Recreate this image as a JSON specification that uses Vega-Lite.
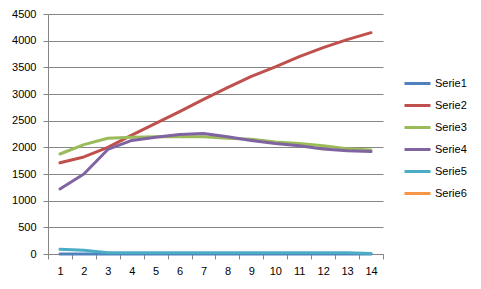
{
  "$schema": "https://vega.github.io/schema/vega-lite/v6.json",
  "width": 335,
  "height": 240,
  "autosize": {"type": "none"},
  "padding": {"left": 48, "top": 14, "right": 98, "bottom": 35},
  "background": "white",
  "config": {
    "view": {"stroke": null},
    "font": "Liberation Sans"
  },
  "datasets": {
    "d": [
      {"x": 1, "s": "Serie1", "v": 0}, {"x": 2, "s": "Serie1", "v": 0}, {"x": 3, "s": "Serie1", "v": 0}, {"x": 4, "s": "Serie1", "v": 0}, {"x": 5, "s": "Serie1", "v": 0}, {"x": 6, "s": "Serie1", "v": 0}, {"x": 7, "s": "Serie1", "v": 0}, {"x": 8, "s": "Serie1", "v": 0}, {"x": 9, "s": "Serie1", "v": 0}, {"x": 10, "s": "Serie1", "v": 0}, {"x": 11, "s": "Serie1", "v": 0}, {"x": 12, "s": "Serie1", "v": 0}, {"x": 13, "s": "Serie1", "v": 0}, {"x": 14, "s": "Serie1", "v": 0},
      {"x": 1, "s": "Serie2", "v": 1710}, {"x": 2, "s": "Serie2", "v": 1820}, {"x": 3, "s": "Serie2", "v": 2000}, {"x": 4, "s": "Serie2", "v": 2230}, {"x": 5, "s": "Serie2", "v": 2450}, {"x": 6, "s": "Serie2", "v": 2670}, {"x": 7, "s": "Serie2", "v": 2900}, {"x": 8, "s": "Serie2", "v": 3120}, {"x": 9, "s": "Serie2", "v": 3330}, {"x": 10, "s": "Serie2", "v": 3510}, {"x": 11, "s": "Serie2", "v": 3700}, {"x": 12, "s": "Serie2", "v": 3870}, {"x": 13, "s": "Serie2", "v": 4020}, {"x": 14, "s": "Serie2", "v": 4150},
      {"x": 1, "s": "Serie3", "v": 1875}, {"x": 2, "s": "Serie3", "v": 2050}, {"x": 3, "s": "Serie3", "v": 2170}, {"x": 4, "s": "Serie3", "v": 2190}, {"x": 5, "s": "Serie3", "v": 2200}, {"x": 6, "s": "Serie3", "v": 2200}, {"x": 7, "s": "Serie3", "v": 2200}, {"x": 8, "s": "Serie3", "v": 2170}, {"x": 9, "s": "Serie3", "v": 2150}, {"x": 10, "s": "Serie3", "v": 2100}, {"x": 11, "s": "Serie3", "v": 2070}, {"x": 12, "s": "Serie3", "v": 2030}, {"x": 13, "s": "Serie3", "v": 1975}, {"x": 14, "s": "Serie3", "v": 1950},
      {"x": 1, "s": "Serie4", "v": 1220}, {"x": 2, "s": "Serie4", "v": 1500}, {"x": 3, "s": "Serie4", "v": 1960}, {"x": 4, "s": "Serie4", "v": 2130}, {"x": 5, "s": "Serie4", "v": 2190}, {"x": 6, "s": "Serie4", "v": 2240}, {"x": 7, "s": "Serie4", "v": 2260}, {"x": 8, "s": "Serie4", "v": 2200}, {"x": 9, "s": "Serie4", "v": 2130}, {"x": 10, "s": "Serie4", "v": 2070}, {"x": 11, "s": "Serie4", "v": 2030}, {"x": 12, "s": "Serie4", "v": 1970}, {"x": 13, "s": "Serie4", "v": 1935}, {"x": 14, "s": "Serie4", "v": 1920},
      {"x": 1, "s": "Serie5", "v": 90}, {"x": 2, "s": "Serie5", "v": 70}, {"x": 3, "s": "Serie5", "v": 25}, {"x": 4, "s": "Serie5", "v": 25}, {"x": 5, "s": "Serie5", "v": 25}, {"x": 6, "s": "Serie5", "v": 25}, {"x": 7, "s": "Serie5", "v": 25}, {"x": 8, "s": "Serie5", "v": 25}, {"x": 9, "s": "Serie5", "v": 25}, {"x": 10, "s": "Serie5", "v": 25}, {"x": 11, "s": "Serie5", "v": 25}, {"x": 12, "s": "Serie5", "v": 25}, {"x": 13, "s": "Serie5", "v": 25}, {"x": 14, "s": "Serie5", "v": 10}
    ]
  },
  "data": {"name": "d"},
  "mark": {"type": "line", "strokeWidth": 3, "strokeCap": "round", "strokeJoin": "round"},
  "encoding": {
    "x": {
      "field": "x", "type": "ordinal",
      "scale": {"paddingInner": 0, "paddingOuter": 0},
      "axis": {
        "title": null, "labelAngle": 0, "tickBand": "extent",
        "domainColor": "#868686", "tickColor": "#868686", "tickSize": 5,
        "labelColor": "black", "labelFontSize": 11, "labelPadding": 6,
        "grid": false
      }
    },
    "y": {
      "field": "v", "type": "quantitative",
      "scale": {"domain": [0, 4500], "nice": false},
      "axis": {
        "title": null, "values": [0, 500, 1000, 1500, 2000, 2500, 3000, 3500, 4000, 4500],
        "format": "d",
        "domainColor": "#868686", "tickColor": "#868686", "tickSize": 5,
        "gridColor": "#868686", "gridOpacity": 1,
        "labelColor": "black", "labelFontSize": 11, "labelPadding": 7
      }
    },
    "color": {
      "field": "s", "type": "nominal",
      "scale": {
        "domain": ["Serie1", "Serie2", "Serie3", "Serie4", "Serie5", "Serie6"],
        "range": ["#4F81BD", "#C0504D", "#9BBB59", "#8064A2", "#4BACC6", "#F79646"]
      },
      "legend": {
        "title": null, "orient": "none", "legendX": 355, "legendY": 55,
        "symbolType": "stroke", "symbolSize": 676, "symbolStrokeWidth": 3,
        "labelFontSize": 11, "labelColor": "black", "rowPadding": 1, "labelOffset": 3
      }
    }
  }
}
